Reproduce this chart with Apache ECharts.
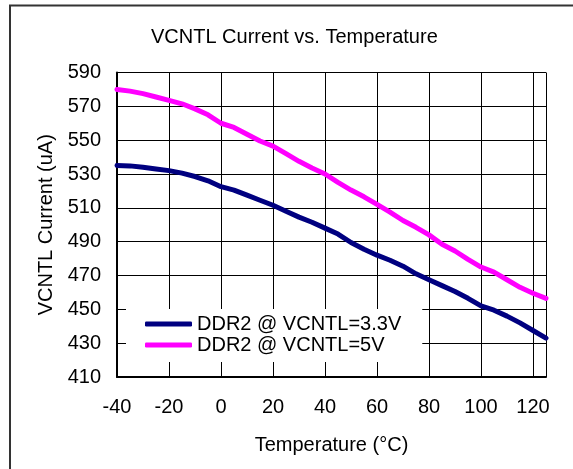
<!DOCTYPE html>
<html>
<head>
<meta charset="utf-8">
<script src="https://cdn.jsdelivr.net/npm/echarts@6/dist/echarts.min.js"></script>
<style>
  html, body { margin: 0; padding: 0; background: #fff; }
  #chart { width: 573px; height: 469px; }
</style>
</head>
<body>
<div id="chart"></div>
<script>
// temperatures, deg C
var temps = [-40, -35, -30, -25, -20, -15, -10, -5, 0, 5, 10, 15, 20, 25, 30, 35, 40,
             45, 50, 55, 60, 65, 70, 75, 80, 85, 90, 95, 100, 105, 110, 115, 120, 125];
// VCNTL current, uA
var cur33 = [535, 534.8, 534, 533, 532, 530.5, 528.5, 526, 522.5, 520.5, 517.5, 514.5, 511.5,
             508, 504.5, 501.5, 498, 494.5, 489.5, 485.5, 482, 479, 475.5, 471, 467.5, 464,
             460.5, 456.5, 452, 449.5, 446, 442, 437.5, 433];
var cur5 = [580, 579, 577.5, 575.5, 573.5, 571.5, 568.5, 565, 560, 557.5, 553.5, 549.5, 546.5,
            542, 537.5, 533.5, 530, 525, 520.5, 516.5, 512, 507.5, 502.5, 498.5, 494, 488.5,
            484.5, 479.5, 475, 472, 467.5, 463, 459.5, 456.5];
var names = ['DDR2 @ VCNTL=3.3V', 'DDR2 @ VCNTL=5V'];
var colors = ['#000080', '#FF00FF'];

var font = 'Liberation Sans, Arial, sans-serif';

function pairs(ys) {
  var out = [];
  for (var i = 0; i < temps.length; i++) out.push([temps[i], ys[i]]);
  return out;
}

var chart = echarts.init(document.getElementById('chart'));
chart.setOption({
  animation: false,
  backgroundColor: '#fff',
  title: {
    text: 'VCNTL Current vs. Temperature',
    left: 151, top: 27, padding: 0,
    textStyle: { fontFamily: font, fontSize: 20, fontWeight: 'normal', color: '#000' }
  },
  graphic: [{
    type: 'polyline',
    shape: { points: [[10, 469], [10, 5.5], [573, 5.5]] },
    style: { stroke: '#333', lineWidth: 2, fill: null }
  }],
  legend: {
    orient: 'vertical',
    left: 126, top: 309,
    padding: [5, 21, 7, 19],
    itemGap: 1,
    itemWidth: 47, itemHeight: 5,
    icon: 'roundRect',
    backgroundColor: '#fff',
    textStyle: { fontFamily: font, fontSize: 20, color: '#000', padding: [0, 0, 0, 0] },
    data: names
  },
  grid: { left: 117, right: 27, top: 72.5, bottom: 92 },
  xAxis: {
    type: 'value',
    min: -40, max: 125, interval: 20,
    name: 'Temperature (°C)',
    nameLocation: 'middle', nameGap: 58,
    nameTextStyle: { fontFamily: font, fontSize: 20, color: '#000' },
    axisLine: { onZero: false, lineStyle: { color: '#000', width: 2 } },
    axisTick: { show: false },
    axisLabel: {
      fontFamily: font, fontSize: 20, color: '#000', margin: 20,
      formatter: function (v) { return v === 125 ? '' : String(v); }
    },
    splitLine: { show: true, lineStyle: { color: '#000', width: 1 } }
  },
  yAxis: {
    type: 'value',
    min: 410, max: 590, interval: 20,
    name: 'VCNTL Current (uA)',
    nameLocation: 'middle', nameGap: 61,
    nameTextStyle: { fontFamily: font, fontSize: 20, color: '#000' },
    axisLine: { show: true, onZero: false, lineStyle: { color: '#000', width: 2 } },
    axisTick: { show: false },
    axisLabel: { fontFamily: font, fontSize: 20, color: '#000', margin: 16 },
    splitLine: { show: true, lineStyle: { color: '#000', width: 1 } }
  },
  series: [{
    name: names[0], type: 'line', data: pairs(cur33),
    showSymbol: false, symbol: 'none', color: colors[0],
    lineStyle: { width: 5, color: colors[0], cap: 'round', join: 'round' }
  }, {
    name: names[1], type: 'line', data: pairs(cur5),
    showSymbol: false, symbol: 'none', color: colors[1],
    lineStyle: { width: 5, color: colors[1], cap: 'round', join: 'round' }
  }]
});
</script>
</body>
</html>
